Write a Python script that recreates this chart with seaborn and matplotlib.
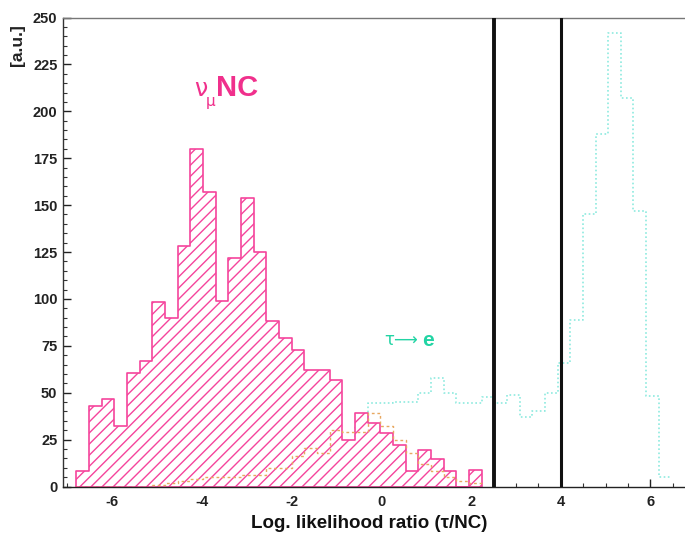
import numpy as np
import pandas as pd
import matplotlib
matplotlib.use("Agg")
import matplotlib.pyplot as plt
from matplotlib.ticker import MultipleLocator
import seaborn as sns

# ---- data ----
bin_start = -6.80
bin_width = 0.2823

# nu_mu NC background (hatched magenta)
nc_counts = [8.5, 43, 46.5, 32, 60.5, 67, 98.5, 90, 128, 180, 157, 99, 122, 154, 125,
             88, 79, 73, 62, 62, 57, 25, 39, 34, 28.5, 22, 8, 19.5, 14.5, 8.5, 0, 9]

# dashed orange component
orange_counts = [0, 0, 0, 0, 0, 0, 1, 2, 3, 4, 5, 5, 5, 6, 6, 10, 10, 16, 20.5, 18,
                 30, 29, 29, 39, 32, 25, 18, 12, 8, 5, 3, 2]

# tau -> e signal (dotted cyan)
tau_counts = [0, 0, 0, 0, 0, 0, 0, 0, 0, 0, 0, 0, 0, 0, 3, 5, 8, 12, 16, 20, 20, 22, 33,
              44.5, 44.5, 45, 45, 50, 58, 50, 44.5, 44.5, 47.7, 44.7, 48.8, 37, 40, 50,
              66, 89, 145, 188, 242, 207, 147, 48, 5]

cut_positions = [2.5, 4.0]

x_ticks = [-6, -4, -2, 0, 2, 4, 6]
y_ticks = [0, 25, 50, 75, 100, 125, 150, 175, 200, 225, 250]


def hist_frame(counts):
    n = len(counts)
    edges = [float(bin_start + bin_width * i) for i in range(n + 1)]
    centers = [(edges[i] + edges[i + 1]) / 2 for i in range(n)]
    return pd.DataFrame({"x": centers, "w": counts}), edges


sns.set_theme(style="ticks")
plt.rcParams["font.family"] = ["Liberation Sans", "DejaVu Sans"]
plt.rcParams["hatch.linewidth"] = 1.0
plt.rcParams["axes.unicode_minus"] = False

fig = plt.figure(figsize=(6.85, 5.34), dpi=100)
ax = fig.add_axes([63 / 685, 47.5 / 534, 1 - 63 / 685, 469 / 534])

magenta = "#f5449c"
cyan = "#8eeadf"
orange = "#e8a860"

df_t, e_t = hist_frame(tau_counts)
sns.histplot(data=df_t, x="x", weights="w", bins=e_t, element="step", fill=False,
             color=cyan, linestyle=(0, (1, 1.5)), linewidth=1.2, ax=ax, zorder=1)

df_nc, e_nc = hist_frame(nc_counts)
sns.histplot(data=df_nc, x="x", weights="w", bins=e_nc, element="step", fill=True,
             facecolor="white", edgecolor=magenta, hatch="///", linewidth=1.2,
             alpha=1, ax=ax, zorder=2)

df_o, e_o = hist_frame(orange_counts)
sns.histplot(data=df_o, x="x", weights="w", bins=e_o, element="step", fill=False,
             color=orange, linestyle=(0, (2, 2)), linewidth=1.0, ax=ax, zorder=3)

for xc, lw in zip(cut_positions, [2.8, 2.2]):
    ax.axvline(xc, color="#111111", linewidth=lw, zorder=5)

ax.set_xlim(-7.10, 6.77)
ax.set_ylim(0, 250)
ax.set_xticks(x_ticks)
ax.set_yticks(y_ticks)
ax.xaxis.set_minor_locator(MultipleLocator(0.5))
ax.yaxis.set_minor_locator(MultipleLocator(5))
ax.tick_params(axis="both", which="major", direction="in", length=6, width=1,
               labelsize=10.5, colors="#222222")
ax.tick_params(axis="both", which="minor", direction="in", length=3, width=0.8,
               colors="#333333")
ax.tick_params(axis="x", pad=6)
ax.tick_params(axis="y", pad=4)
for lab in ax.get_xticklabels() + ax.get_yticklabels():
    lab.set_fontweight("bold")

ax.set_xlabel("Log. likelihood ratio (τ/NC)", fontsize=13.5, fontweight="bold",
              color="#111111")
ax.xaxis.set_label_coords((369 - 63) / (685 - 63), -28 / 469)
ax.set_ylabel("")
fig.text(17 / 685, 1 - 45 / 534, "[a.u.]", rotation=90, fontsize=12.5,
         fontweight="bold", ha="center", va="center", color="#222222")

ax.spines["left"].set_color("#333333")
ax.spines["bottom"].set_color("#222222")
ax.spines["top"].set_color("#777777")
ax.spines["right"].set_visible(False)
for s in ["left", "bottom", "top"]:
    ax.spines[s].set_linewidth(1.0)

label_pink = "#f0308c"
ax.text(-4.03, 212, "ν", color=label_pink, fontsize=17, ha="center",
        va="center", family=["DejaVu Sans"], zorder=6)
ax.text(-3.80, 205, "μ", color=label_pink, fontsize=11, ha="center",
        va="center", family=["DejaVu Sans"], zorder=6)
ax.text(-3.68, 212.5, "NC", color=label_pink, fontsize=21, fontweight="bold",
        ha="left", va="center", zorder=6)
ax.text(0.45, 78, "τ⟶", color="#22d4a4", fontsize=12, ha="center", va="center",
        family=["DejaVu Sans"], zorder=6)
ax.text(1.05, 78, "e", color="#22d4a4", fontsize=15, fontweight="bold",
        ha="center", va="center", zorder=6)

fig.savefig("out.png", dpi=100)
